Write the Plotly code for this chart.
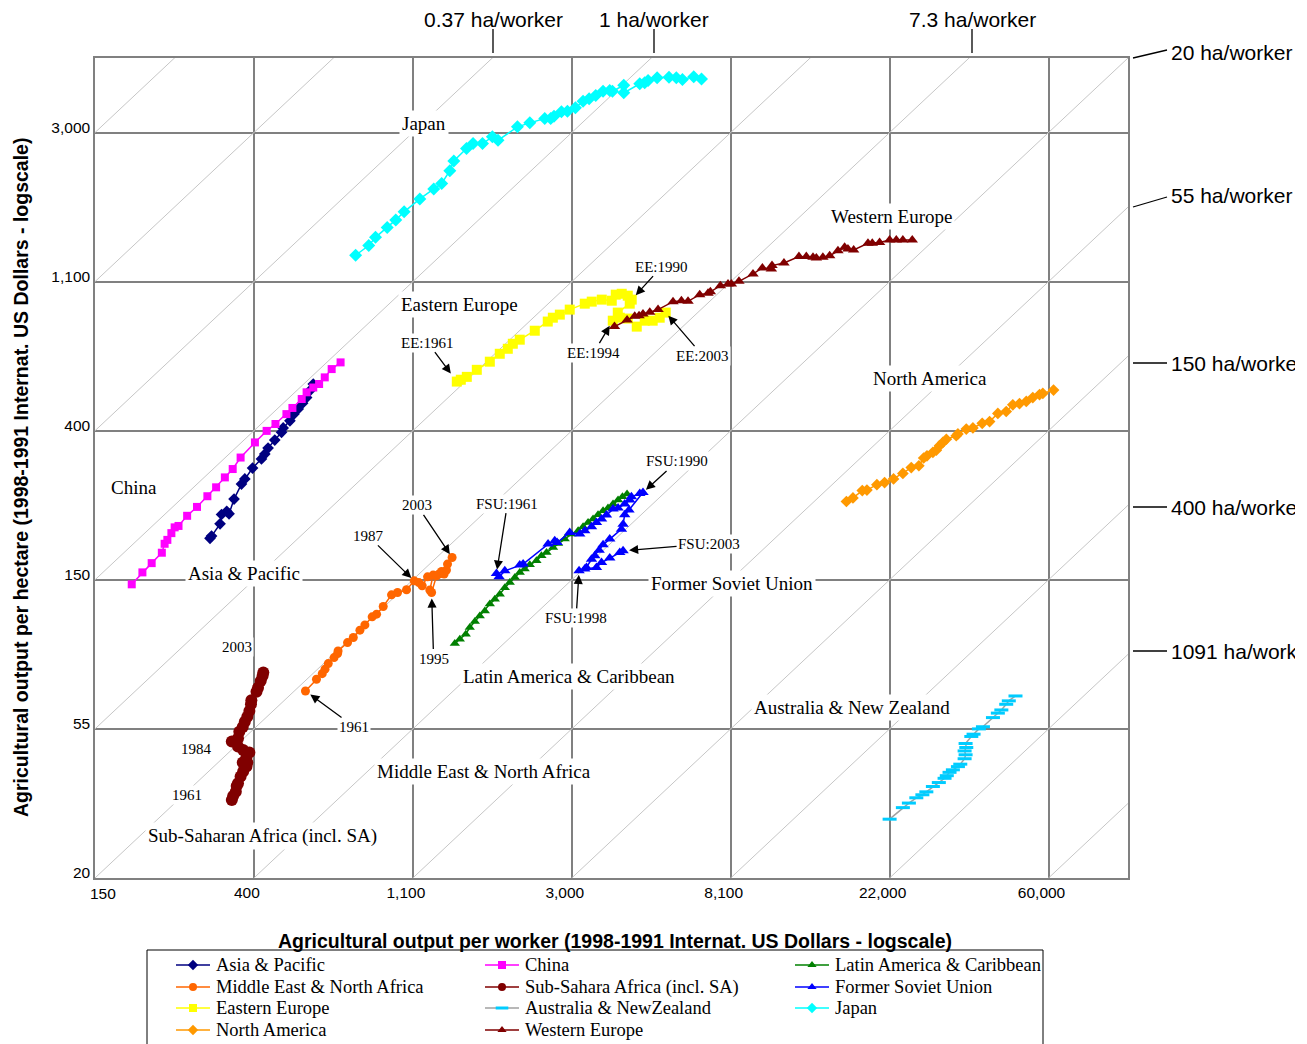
import math
import plotly.graph_objects as go

# ---------------- data (output per worker, output per hectare) ----------------
ap_x = [306, 309, 326, 329, 340, 345, 356, 373, 381, 400, 423, 432, 441, 460, 480, 485, 506, 519, 533, 548, 562, 574, 586]
ap_y = [196, 199, 216, 230, 235, 231, 255, 282, 292, 314, 334, 345, 359, 379, 399, 411, 431, 451, 467, 485, 504, 528, 552]

china_x = [187, 200, 212, 226, 230, 234, 240, 245, 251, 265, 282, 301, 318, 336, 353, 371, 406, 437, 462, 495, 514, 545, 562, 586, 608, 630, 658, 696]
china_y = [144, 156, 166, 178, 189, 194, 203, 211, 213, 228, 242, 260, 276, 295, 312, 337, 373, 403, 422, 451, 470, 499, 522, 539, 552, 577, 610, 638]

lac_x = [1428, 1474, 1530, 1569, 1620, 1671, 1725, 1780, 1837, 1895, 1956, 2018, 2084, 2149, 2217, 2289, 2387,
         2463, 2543, 2650, 2735, 2852, 2975, 3103, 3201, 3303, 3408, 3517, 3630, 3745, 3865, 3989, 4101, 4221]
lac_y = [96.8, 99.7, 103.1, 107.8, 112.2, 116.5, 120.5, 126.1, 130.3, 134.8, 140.8, 145.7, 150.7, 155.8, 159.5,
         164.1, 168.6, 174.4, 178.2, 184.3, 189.4, 195.0, 201.7, 206.3, 211.8, 218.1, 223.0, 229.6, 235.8, 240.1,
         246.6, 253.3, 259.0, 263.7]

mena_x = [558, 598, 620, 631, 644, 668, 683, 685, 727, 754, 786, 811, 849, 873, 910, 959, 996, 1054, 1106, 1139,
          1163, 1203, 1246, 1220, 1234, 1273, 1292, 1314, 1335, 1355, 1364, 1404]
mena_y = [70.4, 76.2, 79.1, 81.5, 84.6, 88.1, 90.5, 92.1, 97.4, 100.8, 105.9, 109.7, 115.8, 117.9, 124.1, 134.2,
          136.3, 138.8, 147.4, 145.7, 142.6, 151.4, 153.2, 138.5, 136.3, 152.4, 154.2, 156.9, 154.2, 158.4, 164.9, 172.4]

ssa_x = [351, 354, 360, 362, 365, 371, 377, 385, 387, 376, 385, 392, 377, 365, 351, 365, 368, 376, 381, 387, 392,
         396, 397, 410, 414, 421, 426, 428]
ssa_y = [33.9, 34.8, 35.8, 37.2, 37.9, 39.7, 41.0, 42.4, 43.6, 43.6, 45.3, 46.6, 47.4, 48.5, 50.2, 51.3, 53.6,
         55.3, 57.3, 59.2, 61.6, 64.4, 66.2, 70.1, 72.0, 75.3, 77.9, 79.7]

fsu_x = [1856, 1887, 1956, 2149, 2195, 2568, 2678, 2718, 2943, 3134, 3235, 3375, 3482, 3595, 3708, 3865, 3989,
         4159, 4293, 4338, 4573, 4666, 4272, 4159, 4117, 4075, 3786, 3630, 3541, 3446, 3375, 3270, 3121, 3235,
         3482, 3595, 3786, 4032, 4117]
fsu_y = [154.8, 151.4, 157.6, 163.8, 164.9, 188.6, 192.8, 190.5, 203.8, 201.7, 206.3, 211.8, 218.1, 223.0, 229.1,
         238.5, 240.1, 246.6, 253.3, 259.0, 264.8, 266.6, 237.0, 229.6, 215.6, 208.5, 195.0, 187.7, 181.1, 174.4,
         170.5, 161.2, 157.6, 159.5, 161.2, 166.6, 171.7, 178.2, 180.3]

ee_x = [1446, 1483, 1540, 1640, 1780, 1895, 1993, 2057, 2149, 2362, 2563, 2646, 2765, 2943, 3235, 3380, 3600,
        3834, 3931, 4082, 4240, 4347, 4293, 3982, 3858, 4032, 4240, 4487, 4718, 4960, 5184, 5384]
ee_y = [561, 568, 579, 607, 641, 676, 699, 723, 743, 789, 839, 861, 879, 909, 946, 959, 972, 965, 1005, 1011, 998,
        972, 946, 891, 844, 861, 856, 811, 844, 844, 861, 891]

aus_x = [22026, 23942, 24867, 26057, 27070, 27753, 28920, 30021, 31123, 31563, 32114, 32797, 33854, 34360, 35308,
         35528, 35308, 35682, 35528, 36827, 37356, 38634, 39625, 42202, 43523, 44493, 45880, 46629, 48633]
aus_y = [29.8, 32.2, 33.2, 34.4, 35.1, 35.8, 37.1, 38.1, 39.2, 39.9, 40.8, 41.5, 42.4, 43.1, 44.7, 45.9, 47.1,
         48.2, 49.5, 51.9, 52.7, 54.6, 55.4, 58.9, 60.7, 62.0, 64.4, 65.9, 68.1]

japan_x = [765, 831, 867, 933, 985, 1038, 1146, 1251, 1315, 1384, 1419, 1537, 1602, 1700, 1809, 1874, 2118, 2289,
           2515, 2611, 2666, 2793, 2901, 3050, 3201, 3325, 3467, 3630, 3786, 3851, 4135, 4135, 4573, 4716, 4817,
           5100, 5497, 5756, 5980, 6421, 6743]
japan_y = [1309, 1397, 1476, 1578, 1659, 1751, 1910, 2043, 2118, 2309, 2465, 2679, 2768, 2768, 2896, 2830, 3097,
           3181, 3275, 3275, 3325, 3426, 3440, 3520, 3678, 3738, 3821, 3932, 3953, 3932, 4093, 3890, 4135, 4164,
           4227, 4302, 4319, 4302, 4257, 4334, 4272]

na_x = [16784, 17488, 18546, 19097, 20330, 21343, 22576, 23942, 25242, 26475, 27290, 27863, 28920, 29559, 30154,
        30792, 31475, 33502, 33854, 35682, 37202, 39449, 41321, 43523, 45880, 47818, 49889, 52047, 54228, 56585,
        57752, 61790]
na_y = [251, 257, 270, 271, 281, 285, 292, 303, 315, 319, 336, 341, 349, 354, 365, 373, 381, 390, 395, 408, 411,
        424, 429, 453, 459, 480, 484, 491, 504, 514, 518, 530]

we_x = [3900, 4222, 4430, 4552, 4666, 4870, 5130, 5637, 5943, 6195, 6668, 7026, 7131, 7596, 7968, 8136, 8535, 9325,
        9892, 10466, 10509, 11330, 12451, 13043, 13600, 13890, 14475, 15104, 15913, 16596, 16947, 17565, 19220,
        19752, 20680, 22026, 22971, 23940, 25400]
we_y = [811, 848, 869, 873, 883, 893, 909, 959, 965, 961, 1005, 1014, 1025, 1067, 1080, 1080, 1099, 1155, 1202,
        1194, 1221, 1243, 1297, 1297, 1291, 1286, 1291, 1305, 1350, 1380, 1365, 1356, 1418, 1418, 1425, 1451, 1451,
        1451, 1451]

x_tick_vals = [math.exp(n) for n in range(5, 12)]
x_tick_text = ["150", "400", "1,100", "3,000", "8,100", "22,000", "60,000"]
y_tick_vals = [math.exp(n) for n in range(3, 9)]
y_tick_text = ["20", "55", "150", "400", "1,100", "3,000"]

iso_ln = list(range(-3, 9))   # ln(ha/worker) of the diagonal iso-lines

# ---------------- layout geometry (page pixels; page has an 8px body margin) ----------------
OFF = 8
FW, FH = 1307 - OFF, 1044 - OFF
L, R, T, B = 95, 1128, 58, 878          # plot area in page pixels


def fx(p):
    return (p - OFF) / FW


def fy(p):
    return 1 - (p - OFF) / FH


X_LN = (5.0, 11.5)
Y_LN = (3.0, 8.5)

SERIF = "Liberation Serif, Times New Roman, serif"
SANS = "Liberation Sans, Arial, sans-serif"

fig = go.Figure()

for k in iso_ln:
    xs = [math.exp(X_LN[0]), math.exp(X_LN[1])]
    ys = [v / math.exp(k) for v in xs]
    fig.add_trace(go.Scatter(x=xs, y=ys, mode="lines", line=dict(color="#C6C6C6", width=1),
                             hoverinfo="skip", showlegend=False))

series = [
    ("Asia & Pacific", ap_x, ap_y, "#000080", "diamond", 9, "#000080"),
    ("China", china_x, china_y, "#FF00FF", "square", 8, "#FF00FF"),
    ("Latin America & Caribbean", lac_x, lac_y, "#008000", "triangle-up", 9, "#008000"),
    ("Middle East & North Africa", mena_x, mena_y, "#FF6600", "circle", 9, "#FF6600"),
    ("Sub-Sahara Africa (incl. SA)", ssa_x, ssa_y, "#800000", "circle", 12, "#800000"),
    ("Former Soviet Union", fsu_x, fsu_y, "#0000FF", "triangle-up", 10, "#0000FF"),
    ("Eastern Europe", ee_x, ee_y, "#FFFF00", "square", 10, "#FFFF00"),
    ("Australia & NewZealand", aus_x, aus_y, "#00CCFF", "line-ew", 10, "#A0A0A0"),
    ("Japan", japan_x, japan_y, "#00FFFF", "diamond", 10, "#00FFFF"),
    ("North America", na_x, na_y, "#FF9900", "diamond", 9, "#FF9900"),
    ("Western Europe", we_x, we_y, "#800000", "triangle-up", 10, "#800000"),
]


def make_marker(sym, size, col):
    if sym == "line-ew":
        return dict(symbol=sym, size=size, color=col, line=dict(color=col, width=3))
    return dict(symbol=sym, size=size, color=col, line=dict(width=0))


for name, xs, ys, mcol, sym, size, lcol in series:
    fig.add_trace(go.Scatter(x=xs, y=ys, name=name, mode="lines+markers", showlegend=False,
                             line=dict(color=lcol, width=1.5), marker=make_marker(sym, size, mcol)))

annotations = []
shapes = []

# ---------------- legend (drawn on an invisible page-pixel overlay axis) ----------------
leg_rows = [965, 987, 1008, 1030]
leg_cols = [176, 485, 795]
for idx, (name, xs, ys, mcol, sym, size, lcol) in enumerate(series):
    r, c = divmod(idx, 3)
    x0, y0 = leg_cols[c], leg_rows[r]
    fig.add_trace(go.Scatter(x=[x0, x0 + 34], y=[y0, y0], mode="lines", line=dict(color=lcol, width=1.5),
                             xaxis="x2", yaxis="y2", showlegend=False, hoverinfo="skip"))
    fig.add_trace(go.Scatter(x=[x0 + 17], y=[y0], mode="markers",
                             marker=make_marker(sym, 8 if sym != "line-ew" else 9, mcol),
                             xaxis="x2", yaxis="y2", showlegend=False, hoverinfo="skip"))
    annotations.append(dict(text=name.replace("&", "&amp;"), x=fx(x0 + 38), y=fy(y0), xref="paper", yref="paper",
                            xanchor="left", yanchor="middle", showarrow=False,
                            font=dict(family=SERIF, size=18.5, color="black")))
shapes.append(dict(type="rect", xref="paper", yref="paper", x0=fx(147), x1=fx(1043), y0=fy(1070),
                   y1=fy(950), line=dict(color="black", width=1)))

# ---------------- region labels ----------------
region_labels = [
    ("Japan", 424, 123), ("Western Europe", 891, 216), ("Eastern Europe", 459, 304),
    ("North America", 930, 378), ("China", 134, 487), ("Asia &amp; Pacific", 244, 573),
    ("Former Soviet Union", 732, 583), ("Latin America &amp; Caribbean", 569, 676),
    ("Australia &amp; New Zealand", 852, 707), ("Middle East &amp; North Africa", 484, 771),
    ("Sub-Saharan Africa (incl. SA)", 262, 836),
]
for txt, x, y in region_labels:
    annotations.append(dict(text=txt, x=fx(x), y=fy(y), xref="paper", yref="paper", showarrow=False,
                            xanchor="center", yanchor="middle",
                            font=dict(family=SERIF, size=19, color="black"), bgcolor="white", borderpad=2))

small_labels = [("2003", 237, 647), ("1984", 196, 749), ("1961", 187, 795)]
for txt, x, y in small_labels:
    annotations.append(dict(text=txt, x=fx(x), y=fy(y), xref="paper", yref="paper", showarrow=False,
                            xanchor="center", yanchor="middle",
                            font=dict(family=SERIF, size=15, color="black"), bgcolor="white", borderpad=1))

# arrow labels pointing at data points
arrow_labels = [
    ("EE:1961", ee_x, ee_y, 0, -29, -39, 10),
    ("EE:1990", ee_x, ee_y, 21, 30, -33, 6),
    ("EE:1994", ee_x, ee_y, 24, -19, 32, 6),
    ("EE:2003", ee_x, ee_y, -1, 37, 43, 4),
    ("2003", mena_x, mena_y, -1, -35, -52, 4),
    ("1987", mena_x, mena_y, 18, -46, -45, 4),
    ("1995", mena_x, mena_y, 24, 2, 66, 6),
    ("1961", mena_x, mena_y, 0, 49, 36, 6),
    ("FSU:1961", fsu_x, fsu_y, 0, 11, -70, 4),
    ("FSU:1990", fsu_x, fsu_y, 21, 34, -31, 4),
    ("FSU:2003", fsu_x, fsu_y, -1, 86, -7, 6),
    ("FSU:1998", fsu_x, fsu_y, 32, -3, 47, 4),
]
for txt, xs, ys, i, ax, ay, so in arrow_labels:
    annotations.append(dict(text=txt, x=math.log10(xs[i]), y=math.log10(ys[i]), xref="x", yref="y",
                            ax=ax, ay=ay, showarrow=True, arrowhead=2, arrowsize=1.4, arrowwidth=1.3,
                            arrowcolor="black", standoff=so,
                            font=dict(family=SERIF, size=15, color="black"), bgcolor="white", borderpad=1))

# ---------------- ha/worker labels outside the plot ----------------
top_labels = [("0.37 ha/worker", 493), ("1 ha/worker", 654), ("7.3 ha/worker", 972)]
for txt, x in top_labels:
    annotations.append(dict(text=txt, x=fx(x), y=fy(19), xref="paper", yref="paper", showarrow=False,
                            xanchor="center", yanchor="middle",
                            font=dict(family=SANS, size=21, color="black")))
    shapes.append(dict(type="line", xref="paper", yref="paper", x0=fx(x), x1=fx(x), y0=fy(29), y1=fy(53),
                       line=dict(color="black", width=1.3)))

right_labels = [("20 ha/worker", 52, 58, 50), ("55 ha/worker", 196, 207, 197), ("150 ha/worker", 363, 363, 363),
                ("400 ha/worker", 507, 507, 507), ("1091 ha/worker", 651, 651, 651)]
for txt, ty, y0, y1 in right_labels:
    annotations.append(dict(text=txt, x=fx(1170), y=fy(ty), xref="paper", yref="paper", showarrow=False,
                            xanchor="left", yanchor="middle", align="left", width=124, borderpad=0,
                            font=dict(family=SANS, size=21, color="black")))
    shapes.append(dict(type="line", xref="paper", yref="paper", x0=fx(1133), x1=fx(1167), y0=fy(y0),
                       y1=fy(y1), line=dict(color="black", width=1.3)))

# the first x tick label sits inside the corner in the reference; drawn separately
annotations.append(dict(text=x_tick_text[0], x=fx(103), y=fy(893), xref="paper", yref="paper", showarrow=False,
                        xanchor="center", yanchor="middle", font=dict(family=SANS, size=15.5, color="black")))
x_axis_text = [""] + x_tick_text[1:]

# ---------------- axis titles ----------------
annotations.append(dict(text="<b>Agricultural output per worker (1998-1991 Internat. US Dollars - logscale)</b>",
                        x=fx(615), y=fy(941), xref="paper", yref="paper", showarrow=False,
                        xanchor="center", yanchor="middle",
                        font=dict(family=SANS, size=19.5, color="black")))
annotations.append(dict(text="<b>Agricultural output per hectare (1998-1991 Internat. US Dollars - logscale)</b>",
                        x=fx(21), y=fy(478), xref="paper", yref="paper", showarrow=False, textangle=-90,
                        xanchor="center", yanchor="middle",
                        font=dict(family=SANS, size=19.5, color="black")))

fig.update_layout(
    width=FW, height=FH,
    margin=dict(l=0, r=0, t=0, b=0, autoexpand=False),
    paper_bgcolor="white", plot_bgcolor="rgba(0,0,0,0)",
    showlegend=False,
    annotations=annotations,
    shapes=shapes,
    xaxis=dict(type="log", range=[X_LN[0] / math.log(10), X_LN[1] / math.log(10)],
               domain=[fx(L), fx(R)], anchor="y",
               tickvals=x_tick_vals, ticktext=x_axis_text, ticks="", ticklabelshift=-7,
               showgrid=True, gridcolor="#808080", gridwidth=1.5, zeroline=False,
               showline=True, linecolor="#808080", linewidth=1.5, mirror=True,
               tickfont=dict(family=SANS, size=15.5, color="black")),
    yaxis=dict(type="log", range=[Y_LN[0] / math.log(10), Y_LN[1] / math.log(10)],
               domain=[fy(B), fy(T)], anchor="x",
               tickvals=y_tick_vals, ticktext=y_tick_text, ticks="", ticklabelshift=-5,
               showgrid=True, gridcolor="#808080", gridwidth=1.5, zeroline=False,
               showline=True, linecolor="#808080", linewidth=1.5, mirror=True,
               tickfont=dict(family=SANS, size=15.5, color="black")),
    xaxis2=dict(domain=[0, 1], range=[OFF, 1307], anchor="y2", visible=False, fixedrange=True),
    yaxis2=dict(domain=[0, 1], range=[1044, OFF], anchor="x2", visible=False, fixedrange=True),
)

fig.write_html("out.html")
